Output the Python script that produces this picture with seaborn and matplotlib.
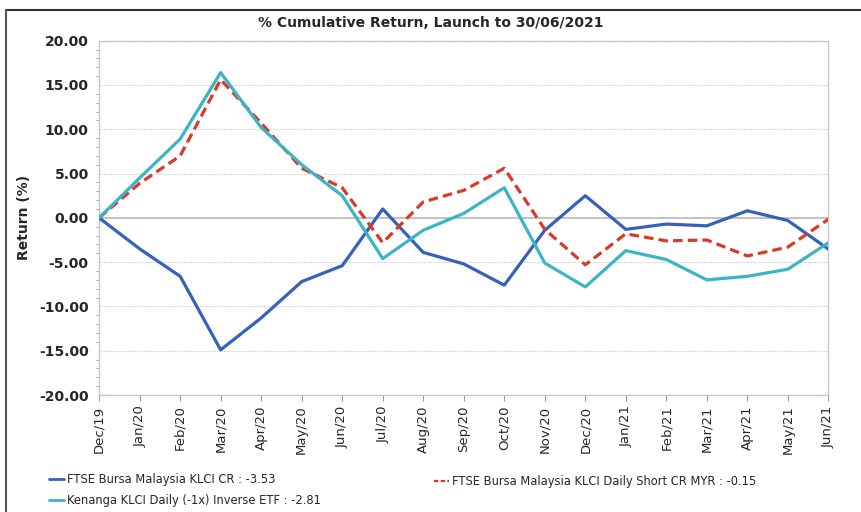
import pandas as pd
import seaborn as sns
import matplotlib.pyplot as plt
from matplotlib.ticker import MultipleLocator, FormatStrFormatter
from matplotlib.lines import Line2D

# Month labels along the x axis
months = ['Dec/19', 'Jan/20', 'Feb/20', 'Mar/20', 'Apr/20', 'May/20', 'Jun/20',
          'Jul/20', 'Aug/20', 'Sep/20', 'Oct/20', 'Nov/20', 'Dec/20', 'Jan/21',
          'Feb/21', 'Mar/21', 'Apr/21', 'May/21', 'Jun/21']

# Cumulative returns (%)
klci_cr = [0.0, -3.5, -6.6, -14.9, -11.3, -7.2, -5.4, 1.0, -3.9, -5.2, -7.6,
           -1.4, 2.5, -1.3, -0.7, -0.9, 0.8, -0.3, -3.53]
klci_short = [0.0, 3.9, 7.0, 15.6, 10.7, 5.6, 3.4, -2.8, 1.8, 3.1, 5.6,
              -1.3, -5.3, -1.8, -2.6, -2.5, -4.3, -3.3, -0.15]
kenanga_etf = [0.0, 4.5, 8.9, 16.4, 10.2, 6.0, 2.5, -4.6, -1.4, 0.5, 3.4,
               -5.1, -7.8, -3.7, -4.7, -7.0, -6.6, -5.8, -2.81]

series_names = ['FTSE Bursa Malaysia KLCI CR : -3.53',
                'FTSE Bursa Malaysia KLCI Daily Short CR MYR : -0.15',
                'Kenanga KLCI Daily (-1x) Inverse ETF : -2.81']
colors = ['#3461b9', '#d83a2a', '#3cb4c5']

frames = []
for name, vals in zip(series_names, [klci_cr, klci_short, kenanga_etf]):
    frames.append(pd.DataFrame({'idx': range(len(months)), 'ret': vals, 'series': name}))
df = pd.concat(frames, ignore_index=True)

sns.set_style('white')
plt.rcParams['font.family'] = ['DejaVu Sans']

fig = plt.figure(figsize=(8.62, 5.12), dpi=100)
ax = fig.add_axes([0.115, 0.2285, 0.846, 0.692])

# grid lines first so they sit behind the series
for y in range(-20, 21, 5):
    if y == 0:
        ax.axhline(0, color='#b8b8b8', lw=1.2, zorder=1)
    else:
        ax.axhline(y, color='#c8ccd2', lw=0.8, ls=(0, (1, 1)), zorder=1)

sns.lineplot(data=df, x='idx', y='ret', hue='series', style='series',
             palette=dict(zip(series_names, colors)),
             dashes={series_names[0]: '', series_names[1]: (3, 1.6), series_names[2]: ''},
             linewidth=2.3, legend=False, ax=ax, zorder=3)

ax.set_xlim(0, len(months) - 1)
ax.set_ylim(-20, 20)
ax.set_xticks(range(len(months)))
ax.set_xticklabels(months, rotation=90, fontsize=9.5)
ax.yaxis.set_major_locator(MultipleLocator(5))
ax.yaxis.set_minor_locator(MultipleLocator(1))
ax.yaxis.set_major_formatter(FormatStrFormatter('%.2f'))
ax.tick_params(axis='y', which='major', length=4, color='#999999', labelsize=10)
ax.tick_params(axis='y', which='minor', length=2, color='#999999', left=True)
ax.tick_params(axis='x', length=4, color='#999999', bottom=True)
for lab in ax.get_yticklabels():
    lab.set_fontweight('bold')
for sp in ax.spines.values():
    sp.set_color('#c4c8d0')
    sp.set_linewidth(1)

ax.set_xlabel('')
ax.set_ylabel('Return (%)', fontsize=10, fontweight='bold', labelpad=6)
fig.text(0.5, 0.955, '% Cumulative Return, Launch to 30/06/2021', ha='center',
         va='center', fontsize=10, fontweight='bold')

# legend: two blocks so the second column sits where the reference puts it
leg_kw = dict(frameon=False, fontsize=8.3, handlelength=1.3, handletextpad=0.25,
              labelspacing=0.75, borderaxespad=0)
fig.legend([Line2D([], [], color=colors[0], lw=2), Line2D([], [], color=colors[2], lw=2)],
           [series_names[0], series_names[2]], loc='lower left',
           bbox_to_anchor=(0.052, 0.0), **leg_kw)
fig.legend([Line2D([], [], color=colors[1], lw=1.6, ls=(0, (2, 1)))],
           [series_names[1]], loc='lower left', bbox_to_anchor=(0.498, 0.038), **leg_kw)

# frame lines on the top and left edge only, as in the source screenshot
fig.add_artist(Line2D([0.007, 1.0], [0.98, 0.98], transform=fig.transFigure,
                      color='#333333', lw=1.5))
fig.add_artist(Line2D([0.007, 0.007], [0.0, 0.98], transform=fig.transFigure,
                      color='#555555', lw=1.5))

fig.savefig('out.png', dpi=100)
